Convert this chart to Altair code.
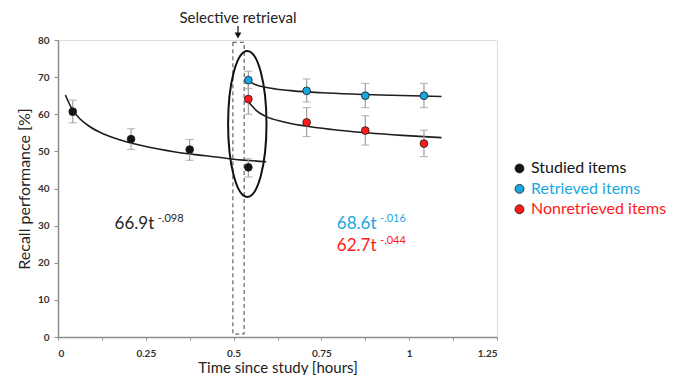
import altair as alt
import pandas as pd

# ---- data ----
hours = [0.042, 0.208, 0.375, 0.542, 0.708, 0.875, 1.042]

studied = [60.7, 53.3, 50.5, 45.7]
studied_lo = [57.7, 50.5, 47.6, 43.1]
studied_hi = [63.8, 56.1, 53.2, 48.0]

retrieved = [69.2, 66.3, 65.0, 65.0]
retrieved_lo = [66.9, 63.3, 61.8, 61.8]
retrieved_hi = [71.6, 69.5, 68.3, 68.3]

nonretrieved = [64.1, 57.8, 55.6, 52.1]
nonretrieved_lo = [60.0, 54.0, 51.7, 48.6]
nonretrieved_hi = [68.3, 61.8, 59.6, 55.7]

# fitted curves
curve_studied_x = [0.021, 0.04, 0.06, 0.09, 0.13, 0.18, 0.25, 0.33, 0.42, 0.5, 0.593]
curve_studied_y = [65.2, 61.4, 59.0, 56.7, 54.7, 53.0, 51.3, 49.9, 48.8, 47.9, 47.2]
curve_retrieved_x = [0.541, 0.55, 0.565, 0.584, 0.62, 0.67, 0.75, 0.85, 0.95, 1.092]
curve_retrieved_y = [69.6, 68.6, 67.9, 67.4, 66.8, 66.3, 65.8, 65.4, 65.1, 64.8]
curve_nonretrieved_x = [0.541, 0.546, 0.553, 0.565, 0.59, 0.64, 0.7, 0.78, 0.88, 0.98, 1.092]
curve_nonretrieved_y = [64.3, 63.0, 62.2, 61.0, 59.5, 58.0, 56.9, 55.9, 55.0, 54.3, 53.7]

series_names = ["Studied items", "Retrieved items", "Nonretrieved items"]
series_colors = ["#141414", "#1aa7e0", "#ff1a1a"]

formula_labels = ["66.9t", "68.6t", "62.7t"]
formula_exps = ["-.098", "-.016", "-.044"]
formula_colors = ["#262626", "#1aa7e0", "#ff1a1a"]

x_ticks = [0, 0.125, 0.25, 0.375, 0.5, 0.625, 0.75, 0.875, 1, 1.125, 1.25]
y_ticks = [0, 10, 20, 30, 40, 50, 60, 70, 80]

FONT = "Lato"

# ---- tables ----
pts = pd.DataFrame({
    "x": hours[0:4] + hours[3:7] + hours[3:7],
    "y": studied + retrieved + nonretrieved,
    "lo": studied_lo + retrieved_lo + nonretrieved_lo,
    "hi": studied_hi + retrieved_hi + nonretrieved_hi,
    "series": [series_names[0]] * 4 + [series_names[1]] * 4 + [series_names[2]] * 4,
})

curves = pd.DataFrame({
    "x": curve_studied_x + curve_retrieved_x + curve_nonretrieved_x,
    "y": curve_studied_y + curve_retrieved_y + curve_nonretrieved_y,
    "series": [series_names[0]] * len(curve_studied_x)
    + [series_names[1]] * len(curve_retrieved_x)
    + [series_names[2]] * len(curve_nonretrieved_x),
})

xscale = alt.Scale(domain=[0, 1.25], nice=False, zero=False)
yscale = alt.Scale(domain=[0, 80], nice=False)
color_scale = alt.Scale(domain=series_names, range=series_colors)

X_AXIS = alt.Axis(
    values=x_ticks,
    labelExpr="(datum.value*4)%1==0 ? format(datum.value, '~g') : ''",
    labelOverlap=False,
    title="Time since study [hours]",
    titleFont=FONT, titleFontSize=15, titleFontWeight="normal", titleColor="#222",
    titleX=219.5, titleY=30, titleBaseline="middle",
    labelFont=FONT, labelFontSize=10, labelFontWeight="bold", labelColor="#333",
    labelPadding=8, tickSize=3, tickColor="#8c8c8c", domainColor="#8c8c8c",
    domainWidth=1.5, grid=False)
Y_AXIS = alt.Axis(
    values=y_ticks, labelOverlap=False,
    title="Recall performance [%]",
    titleFont=FONT, titleFontSize=16, titleFontWeight="normal", titleColor="#222",
    titleX=-34, titleY=148.5, titleAngle=-90, titleBaseline="middle", titleAlign="center",
    labelFont=FONT, labelFontSize=10, labelFontWeight="bold", labelColor="#333",
    labelPadding=5, tickSize=4, tickColor="#8c8c8c", domainColor="#8c8c8c",
    domainWidth=1.5, grid=False)


def xq(field):
    return alt.X(field, scale=xscale, axis=X_AXIS)


def yq(field):
    return alt.Y(field, scale=yscale, axis=Y_AXIS)


base = alt.Chart(pts)

points = base.mark_circle(size=60, stroke="#1a1a1a", strokeWidth=0.8, opacity=1).encode(
    x=xq("x:Q"), y=yq("y:Q"), color=alt.Color("series:N", scale=color_scale, legend=None))

# selective retrieval dashed box and ellipse
box_df = pd.DataFrame({"x": [0.498], "x2": [0.530], "y": [0.8], "y2": [79.4]})
box = alt.Chart(box_df).mark_rect(fillOpacity=0, stroke="#444", strokeDash=[4, 3], strokeWidth=1).encode(
    x=xq("x:Q"), x2="x2:Q", y=yq("y:Q"), y2="y2:Q")

ell_df = pd.DataFrame({"x": [0.539], "y": [57.4]})
ellipse = alt.Chart(ell_df).mark_point(
    shape="M0,-1 A0.263,1 0 1,1 0,1 A0.263,1 0 1,1 0,-1 Z",
    size=146 * 146, filled=False, stroke="#111", strokeWidth=2, opacity=1).encode(
    x=xq("x:Q"), y=yq("y:Q"))

lines = alt.Chart(curves).mark_line(color="#1e1e1e", strokeWidth=1.6, interpolate="monotone").encode(
    x=xq("x:Q"), y=yq("y:Q"), detail="series:N")

err = base.mark_rule(color="#a0a0a0", strokeWidth=1.2).encode(
    x=xq("x:Q"), y=yq("lo:Q"), y2="hi:Q")
cap_lo = base.mark_tick(color="#a0a0a0", size=8, thickness=1.2, orient="horizontal").encode(
    x=xq("x:Q"), y=yq("lo:Q"))
cap_hi = base.mark_tick(color="#a0a0a0", size=8, thickness=1.2, orient="horizontal").encode(
    x=xq("x:Q"), y=yq("hi:Q"))

# formula annotations
form_df = pd.DataFrame({
    "label": formula_labels, "exp": formula_exps, "c": formula_colors,
    "x": [0.161, 0.794, 0.794], "y": [29.2, 29.2, 23.1],
    "xe": [0.284, 0.917, 0.917],
})
form_main = alt.Chart(form_df).mark_text(font=FONT, fontSize=17, align="left", baseline="alphabetic").encode(
    x=xq("x:Q"), y=yq("y:Q"), text="label:N", color=alt.Color("c:N", scale=None))
form_exp = alt.Chart(form_df).mark_text(font=FONT, fontSize=11, align="left", baseline="alphabetic", dy=-7).encode(
    x=xq("xe:Q"), y=yq("y:Q"), text="exp:N", color=alt.Color("c:N", scale=None))

# selective retrieval label + arrow
sel_df = pd.DataFrame({"x": [0.5125], "label": ["Selective retrieval"]})
sel_text = alt.Chart(sel_df).mark_text(font=FONT, fontSize=15, color="#222", baseline="alphabetic").encode(
    x=xq("x:Q"), y=alt.value(-17), text="label:N")
arrow_stem = alt.Chart(sel_df).mark_rule(color="#111", strokeWidth=1.2).encode(
    x=xq("x:Q"), y=alt.value(-14), y2=alt.value(-6))
arrow_head = alt.Chart(sel_df).mark_point(shape="triangle-down", filled=True, size=45, color="#111", opacity=1).encode(
    x=xq("x:Q"), y=alt.value(-4.5))

# manual legend (coloured labels), rows placed on the y scale to the right of the plot
leg_df = pd.DataFrame({
    "label": series_names, "c": series_colors,
    "ly": [45.4 - 5.5 * i for i in range(3)],
})
leg_dot = alt.Chart(leg_df).mark_circle(size=80, stroke="#1a1a1a", strokeWidth=0.8, opacity=1).encode(
    x=alt.value(461.5), y=yq("ly:Q"), color=alt.Color("c:N", scale=None))
leg_txt = alt.Chart(leg_df).mark_text(font=FONT, fontSize=16, align="left", baseline="middle").encode(
    x=alt.value(473), y=yq("ly:Q"), text="label:N", color=alt.Color("c:N", scale=None))

chart = alt.layer(
    box, ellipse, lines, err, cap_lo, cap_hi, points,
    form_main, form_exp, sel_text, arrow_stem, arrow_head, leg_dot, leg_txt,
).properties(
    width=439, height=297, autosize="none",
    padding={"left": 50, "top": 32, "right": 180, "bottom": 38},
).configure_view(stroke="#8c8c8c", strokeWidth=1.5).configure(background="white")

chart.save("out.html", embed_options={"renderer": "svg", "actions": False})
